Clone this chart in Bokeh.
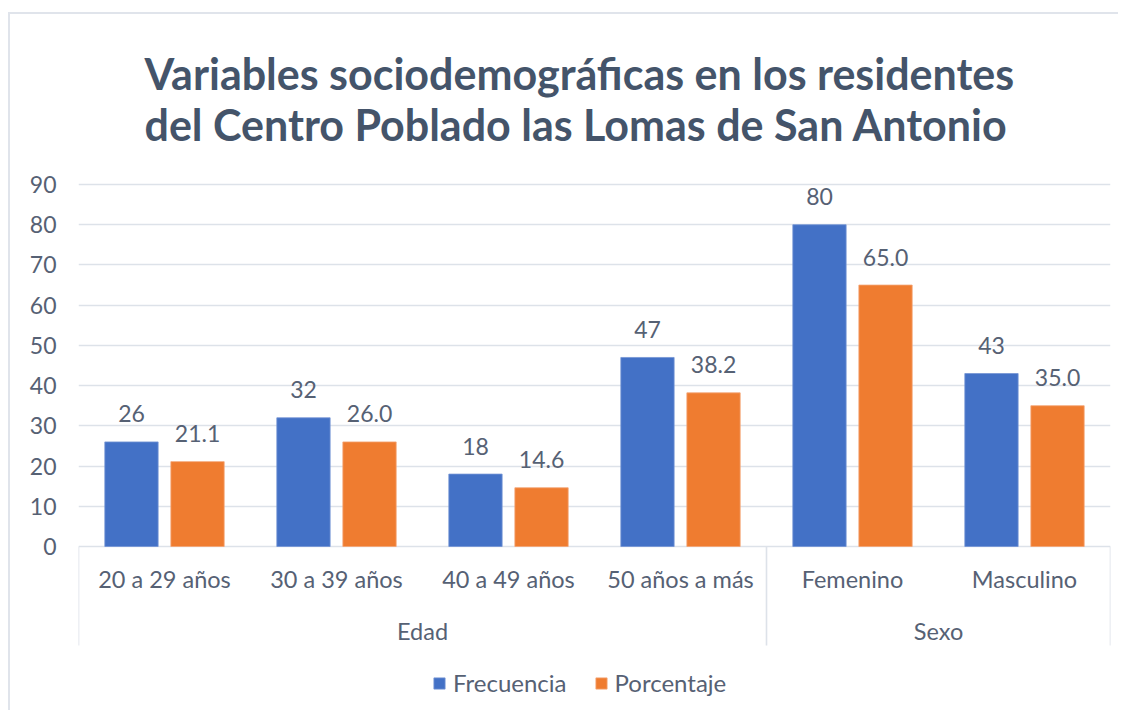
from bokeh.plotting import figure
from bokeh.models import (FactorRange, Range1d, FixedTicker, Legend, LegendItem,
                          ColumnDataSource, InlineStyleSheet)
from bokeh.transform import dodge
from bokeh.core.properties import value
from bokeh.embed import file_html
from bokeh.resources import INLINE

# ---------------- data ----------------
groups = ["Edad", "Edad", "Edad", "Edad", "Sexo", "Sexo"]
categories = ["20 a 29 años", "30 a 39 años", "40 a 49 años", "50 años a más",
              "Femenino", "Masculino"]
frecuencia = [26, 32, 18, 47, 80, 43]
porcentaje = [21.1, 26.0, 14.6, 38.2, 65.0, 35.0]
series_names = ["Frecuencia", "Porcentaje"]
group_names = ["Edad", "Sexo"]
y_ticks = [0, 10, 20, 30, 40, 50, 60, 70, 80, 90]
title_text = ("Variables sociodemográficas en los residentes\n"
              "del Centro Poblado las Lomas de San Antonio")

# ---------------- style ----------------
FONT = "Lato"
TXT = "#566174"
TITLE_C = "#44546A"
GRID = "#DDE2E9"
BLUE = "#4371C6"
ORANGE = "#EF7C30"
PX_PER_UNIT = 362 / 90.0
FRAME_TOP, FRAME_BOTTOM, ZERO_Y = 176, 700, 546

factors = list(zip(groups, categories))
src = ColumnDataSource(dict(
    x=factors,
    frec=frecuencia,
    porc=porcentaje,
    frec_lbl=[str(v) for v in frecuencia],
    porc_lbl=[f"{v:.1f}" for v in porcentaje],
))

x_range = FactorRange(*factors, group_padding=0, factor_padding=0,
                      subgroup_padding=0, range_padding=0)
y_end = (ZERO_Y - FRAME_TOP) / PX_PER_UNIT
y_start = (ZERO_Y - FRAME_BOTTOM) / PX_PER_UNIT

chart_border = InlineStyleSheet(css="""
:host { position: relative; }
:host::after {
  content: "";
  position: absolute;
  left: 8px; top: 12px; right: 0px; bottom: 0px;
  border-left: 2.5px solid #E0E4EB;
  border-top: 2.5px solid #E0E4EB;
  pointer-events: none;
}
""")

p = figure(x_range=x_range, y_range=Range1d(y_start, y_end),
           width=1118, height=710, output_backend="svg",
           toolbar_location=None, x_axis_location=None,
           min_border_left=78, min_border_right=8, min_border_bottom=10,
           min_border_top=FRAME_TOP, title=title_text,
           stylesheets=[chart_border])

p.title.text_font = FONT
p.title.text_font_style = "bold"
p.title.text_font_size = "43px"
p.title.text_color = TITLE_C
p.title.align = "left"
p.title.offset = 66
p.title.text_line_height = 1.0
p.title.standoff = 53

p.outline_line_color = None
p.background_fill_color = "white"
p.border_fill_color = "white"

ax = p.yaxis[0]
ax.ticker = FixedTicker(ticks=y_ticks)
ax.axis_line_color = None
ax.major_tick_line_color = None
ax.minor_tick_line_color = None
ax.major_tick_out = 0
ax.major_tick_in = 0
ax.major_label_standoff = 22
ax.major_label_text_font = FONT
ax.major_label_text_font_size = "23px"
ax.major_label_text_color = TXT

p.ygrid.ticker = FixedTicker(ticks=y_ticks)
p.ygrid.grid_line_color = GRID
p.ygrid.grid_line_width = 1.6
p.xgrid.grid_line_color = None

OFF = 0.192
W = 0.31
r1 = p.vbar(x=dodge("x", -OFF, range=x_range), top="frec", width=W, source=src,
            fill_color=BLUE, line_color="#7394D4", line_width=0.8)
r2 = p.vbar(x=dodge("x", OFF, range=x_range), top="porc", width=W, source=src,
            fill_color=ORANGE, line_color="#F4A575", line_width=0.8)

# data labels
p.text(x=dodge("x", -OFF, range=x_range), y="frec", text="frec_lbl", source=src,
       text_align="center", text_baseline="middle", y_offset=-28,
       text_font=value(FONT), text_font_size="23px", text_color=TXT)
p.text(x=dodge("x", OFF, range=x_range), y="porc", text="porc_lbl", source=src,
       text_align="center", text_baseline="middle", y_offset=-28,
       text_font=value(FONT), text_font_size="23px", text_color=TXT)

# category labels
p.text(x="x", y=0, text="cat", source=ColumnDataSource(dict(x=factors, cat=categories)),
       text_align="center", text_baseline="middle", y_offset=32,
       text_font=value(FONT), text_font_size="23.5px", text_color=TXT)
# group labels
p.text(x="x", y=0, text="g", source=ColumnDataSource(dict(x=group_names, g=group_names)),
       text_align="center", text_baseline="middle", y_offset=84,
       text_font=value(FONT), text_font_size="23.5px", text_color=TXT)

# separators of the category axis
sep_y = -99 / PX_PER_UNIT
first_of_group = [f for i, f in enumerate(factors) if i == 0 or groups[i] != groups[i - 1]]
sep_src = ColumnDataSource(dict(x=first_of_group))
p.segment(x0=dodge("x", -0.5, range=x_range), x1=dodge("x", -0.5, range=x_range),
          y0=0, y1=sep_y, source=sep_src, line_color=GRID, line_width=1.6)
end_src = ColumnDataSource(dict(x=[factors[-1]]))
p.segment(x0=dodge("x", 0.5, range=x_range), x1=dodge("x", 0.5, range=x_range),
          y0=0, y1=sep_y, source=end_src, line_color=GRID, line_width=1.6)

legend = Legend(items=[LegendItem(label=series_names[0], renderers=[r1]),
                       LegendItem(label=series_names[1], renderers=[r2])],
                orientation="horizontal", location=(354, 3),
                border_line_color=None, background_fill_alpha=0,
                glyph_width=14, glyph_height=14, label_standoff=7, spacing=27,
                padding=0, margin=0,
                label_text_font=FONT, label_text_font_size="24px",
                label_text_color=TXT)
p.add_layout(legend)

open("out.html", "w").write(file_html(p, INLINE))
